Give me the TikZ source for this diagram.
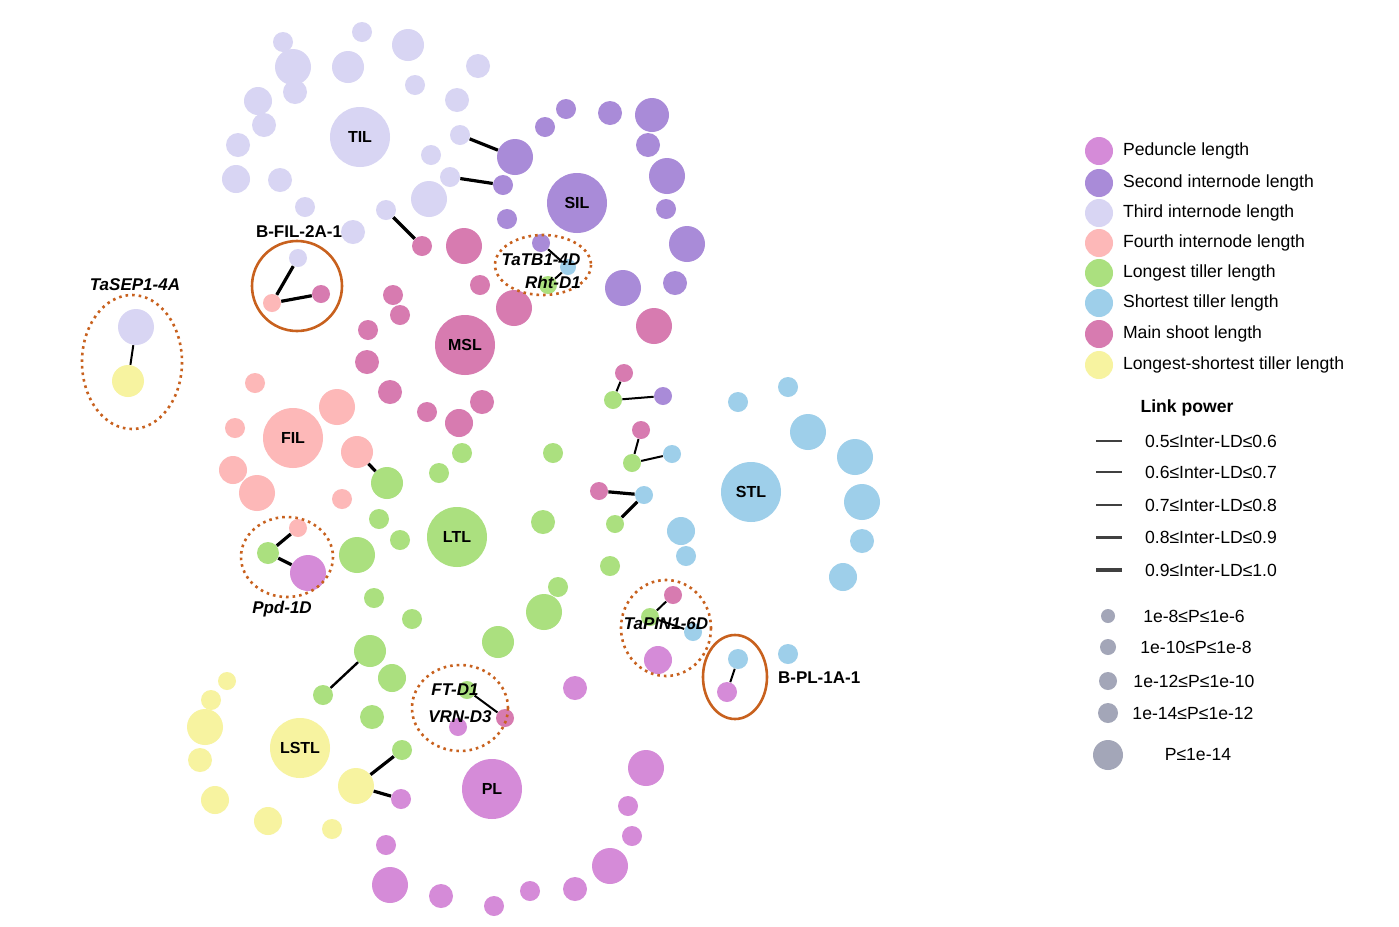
\documentclass[tikz,border=0pt]{standalone}
\usepackage{fontspec}
\setmainfont{Liberation Sans}
\usetikzlibrary{backgrounds}
\definecolor{cPL}{HTML}{D58BD8}
\definecolor{cSIL}{HTML}{A98BD8}
\definecolor{cTIL}{HTML}{D8D5F3}
\definecolor{cFIL}{HTML}{FDB8B8}
\definecolor{cLTL}{HTML}{ABE07F}
\definecolor{cSTL}{HTML}{9ECFEA}
\definecolor{cMSL}{HTML}{D77BB0}
\definecolor{cLS}{HTML}{F7F3A0}
\definecolor{cP}{HTML}{A3A6B8}
\definecolor{cOr}{HTML}{C8611E}
\tikzset{lf/.style={circle,inner sep=0pt,draw=none},
 hub/.style={lf,minimum size=30pt,font=\bfseries\fontsize{8}{9}\selectfont},
 ed/.style={draw=gray!55,line width=0.45pt},
 bd/.style={line width=1.6pt,black},
 dotc/.style={draw=cOr,line width=1.3pt,dotted},
 solc/.style={draw=cOr,line width=1.3pt},
 gl/.style={font=\bfseries\itshape\fontsize{8.5}{9}\selectfont},
 lg/.style={anchor=west,font=\fontsize{8.8}{10}\selectfont}}
\newcommand\grp[3]{\foreach \x/\y/\r [count=\i] in {#3} {\node[lf,fill=#2,minimum size=\r pt] (#1-\i) at (\x,\y) {};
 \begin{pgfonlayer}{background}\draw[ed] (#1) -- (#1-\i);\end{pgfonlayer}}}
\newcommand\spn[6]{\node[lf,fill=#5,minimum size=#4pt] (#1) at (#2,#3) {};
 \begin{pgfonlayer}{background}\draw[ed] (#6) -- (#1);\end{pgfonlayer}}
\begin{document}
\begin{tikzpicture}[x=0.5pt,y=-0.5pt]
\useasboundingbox[fill=white] (0,0) rectangle (1399,927);
% hubs
\node[hub,fill=cTIL] (TIL) at (360,137) {TIL};
\node[hub,fill=cSIL] (SIL) at (577,203) {SIL};
\node[hub,fill=cMSL] (MSL) at (465,345) {MSL};
\node[hub,fill=cFIL] (FIL) at (293,438) {FIL};
\node[hub,fill=cLTL] (LTL) at (457,537) {LTL};
\node[hub,fill=cSTL] (STL) at (751,492) {STL};
\node[hub,fill=cLS] (LSTL) at (300,748) {LSTL};
\node[hub,fill=cPL] (PL) at (492,789) {PL};
% leaf groups
\grp{TIL}{cTIL}{283/42/10,293/67/18,348/67/16,362/32/10,408/45/16,478/66/12,415/85/10,457/100/12,295/92/12,258/101/14,264/125/12,238/145/12,236/179/14,280/180/12,305/207/10,353/232/12,429/199/18,431/155/10}
\grp{SIL}{cSIL}{566/109/10,610/113/12,652/115/17,545/127/10,648/145/12,667/176/18,666/209/10,687/244/18,675/283/12,623/288/18,507/219/10}
\grp{MSL}{cMSL}{464/246/18,480/285/10,514/308/18,393/295/10,400/315/10,368/330/10,367/362/12,390/392/12,427/412/10,459/423/14,482/402/12,654/326/18}
\grp{FIL}{cFIL}{255/383/10,337/407/18,235/428/10,233/470/14,257/493/18,342/499/10}
\grp{LTL}{cLTL}{462/453/10,439/473/10,379/519/10,400/540/10,357/555/18,374/598/10,412/619/10,543/522/12,553/453/10,558/587/10,610/566/10,544/612/18,498/642/16,392/678/14,372/717/12}
\grp{STL}{cSTL}{738/402/10,788/387/10,808/432/18,855/457/18,862/502/18,862/541/12,843/577/14,681/531/14,686/556/10,788/654/10}
\grp{LSTL}{cLS}{227/681/9,211/700/10,205/727/18,200/760/12,215/800/14,268/821/14,332/829/10}
\grp{PL}{cPL}{575/688/12,646/768/18,628/806/10,632/836/10,610/866/18,575/889/12,530/891/10,494/906/10,441/896/12,390/885/18,386/845/10}
% special nodes
\spn{b1}{298}{258}{9}{cTIL}{TIL}\spn{b2}{272}{303}{9}{cFIL}{FIL}\spn{b3}{321}{294}{9}{cMSL}{MSL}
\spn{s1}{136}{327}{18}{cTIL}{TIL}\spn{s2}{128}{381}{16}{cLS}{LSTL}
\spn{t1}{541}{243}{9}{cSIL}{SIL}\spn{t2}{568}{267}{8}{cSTL}{STL}\spn{t3}{548}{285}{9}{cLTL}{LTL}
\spn{p1}{298}{528}{9}{cFIL}{FIL}\spn{p2}{268}{553}{11}{cLTL}{LTL}\spn{p3}{308}{573}{18}{cPL}{PL}
\spn{a1}{624}{373}{9}{cMSL}{MSL}\spn{a2}{613}{400}{9}{cLTL}{LTL}\spn{a3}{663}{396}{9}{cSIL}{SIL}
\spn{c1}{641}{430}{9}{cMSL}{MSL}\spn{c2}{632}{463}{9}{cLTL}{LTL}\spn{c3}{672}{454}{9}{cSTL}{STL}
\spn{d1}{599}{491}{9}{cMSL}{MSL}\spn{d2}{644}{495}{9}{cSTL}{STL}\spn{d3}{615}{524}{9}{cLTL}{LTL}
\spn{q1}{673}{595}{9}{cMSL}{MSL}\spn{q2}{650}{617}{9}{cLTL}{LTL}\spn{q3}{693}{632}{9}{cSTL}{STL}\spn{q4}{658}{660}{14}{cPL}{PL}
\spn{r1}{738}{659}{10}{cSTL}{STL}\spn{r2}{727}{692}{10}{cPL}{PL}
\spn{f1}{467}{690}{9}{cLTL}{LTL}\spn{f2}{458}{727}{9}{cPL}{PL}\spn{f3}{505}{718}{9}{cMSL}{MSL}
\spn{g1}{402}{750}{10}{cLTL}{LTL}\spn{g2}{356}{786}{18}{cLS}{LSTL}\spn{g3}{401}{799}{10}{cPL}{PL}
\spn{h1}{370}{651}{16}{cLTL}{LTL}\spn{h2}{323}{695}{10}{cLTL}{LTL}
\spn{k1}{460}{135}{10}{cTIL}{TIL}\spn{k2}{515}{157}{18}{cSIL}{SIL}
\spn{k3}{450}{177}{10}{cTIL}{TIL}\spn{k4}{503}{185}{10}{cSIL}{SIL}
\spn{k5}{386}{210}{10}{cTIL}{TIL}\spn{k6}{422}{246}{10}{cMSL}{MSL}
\spn{m1}{357}{452}{16}{cFIL}{FIL}\spn{m2}{387}{483}{16}{cLTL}{LTL}
% cross edges
\begin{pgfonlayer}{background}
\draw[ed] (b1) -- (FIL); \draw[ed] (t1) -- (MSL); \draw[ed] (a1) -- (STL); \draw[ed] (a3) -- (MSL);
\draw[ed] (LSTL) -- (s2); \draw[ed] (LTL) -- (SIL); \draw[ed] (STL) -- (SIL-10);
\draw[ed] (h2) -- (LSTL); \draw[ed] (g1) -- (LSTL); \draw[ed] (f1) -- (PL); \draw[ed] (LTL) -- (PL);
\draw[ed] (d1) -- (SIL); \draw[ed] (c1) -- (LTL); \draw[ed] (q1) -- (LTL); \draw[ed] (LSTL) -- (p1);
\draw[ed] (r1) -- (PL); \draw[ed] (h1) -- (PL);
\end{pgfonlayer}
% bold links
\draw[bd] (b1) -- (b2) -- (b3) -- cycle;
\draw[bd,line width=1pt] (s1) -- (s2);
\draw[bd,line width=1pt] (t1) -- (t2) -- (t3);
\draw[bd] (p1) -- (p2) -- (p3) -- cycle;
\draw[bd,line width=1pt] (a1) -- (a2) -- (a3) -- cycle;
\draw[bd,line width=1pt] (c1) -- (c2) -- (c3);
\draw[bd] (d1) -- (d2); \draw[bd] (d2) -- (d3);
\draw[bd,line width=1pt] (q1) -- (q2) -- (q3);
\draw[bd,line width=1pt] (r1) -- (r2);
\draw[bd,line width=1pt] (f1) -- (f3);
\draw[bd] (g1) -- (g2) -- (g3) -- cycle;
\draw[bd,line width=1.2pt] (h1) -- (h2);
\draw[bd] (k1) -- (k2); \draw[bd] (k3) -- (k4); \draw[bd] (k5) -- (k6); \draw[bd] (m1) -- (m2);
% highlight outlines
\draw[solc] (297,286) circle [x radius=45,y radius=45];
\draw[dotc] (132,362) ellipse [x radius=50,y radius=67];
\draw[dotc] (543,265) ellipse [x radius=48,y radius=30];
\draw[dotc] (287,557) ellipse [x radius=46,y radius=40];
\draw[dotc] (666,628) ellipse [x radius=45,y radius=48];
\draw[solc] (735,677) ellipse [x radius=32,y radius=42];
\draw[dotc] (460,708) ellipse [x radius=48,y radius=43];
% gene labels
\node[gl] (lTaSEP) at (135,285) {TaSEP1-4A};
\node[gl,font=\bfseries\fontsize{8.5}{9}\selectfont] (lBFIL) at (299,232) {B-FIL-2A-1};
\node[gl] (lTaTB) at (541,260) {TaTB1-4D};
\node[gl] (lRht) at (553,282) {Rht-D1};
\node[gl] (lPpd) at (282,609) {Ppd-1D};
\node[gl] (lPIN) at (666,624) {TaPIN1-6D};
\node[gl] (lFT) at (455,690) {FT-D1};
\node[gl] (lVRN) at (460,717) {VRN-D3};
\node[gl,font=\bfseries\fontsize{8.5}{9}\selectfont,anchor=west] (lBPL) at (771,678) {B-PL-1A-1};
% legend
\foreach \c/\t/\y [count=\i] in {cPL/Peduncle length/151,cSIL/Second internode length/183,cTIL/Third internode length/213,cFIL/Fourth internode length/243,cLTL/Longest tiller length/273,cSTL/Shortest tiller length/303,cMSL/Main shoot length/334,cLS/Longest-shortest tiller length/365}{
 \node[lf,fill=\c,minimum size=14pt] (lc\i) at (1099,\y) {};
 \node[lg] (lt\i) at (1116,\y) {\t};}
\node[font=\bfseries\fontsize{8.8}{10}\selectfont] (lp) at (1187,408) {Link power};
\foreach \y/\w/\t [count=\i] in {441/0.6/0.5≤Inter-LD≤0.6,472/0.9/0.6≤Inter-LD≤0.7,505/1.2/0.7≤Inter-LD≤0.8,537/1.5/0.8≤Inter-LD≤0.9,570/1.8/0.9≤Inter-LD≤1.0}{
 \coordinate (la\i) at (1096,\y); \coordinate (lb\i) at (1122,\y);
 \draw[line width=\w pt,draw=black!75] (la\i) -- (lb\i);
 \node[font=\fontsize{8.8}{10}\selectfont] (ll\i) at (1211,\y) {\t};}
\foreach \y/\r/\x/\t [count=\i] in {616/7/1194/1e-8≤P≤1e-6,647/8/1196/1e-10≤P≤1e-8,681/9/1194/1e-12≤P≤1e-10,713/10/1193/1e-14≤P≤1e-12,755/15/1198/P≤1e-14}{
 \node[lf,fill=cP,minimum size=\r pt] (pc\i) at (1108,\y) {};
 \node[font=\fontsize{8.8}{10}\selectfont] (pt\i) at (\x,\y) {\t};}
\end{tikzpicture}
\end{document}
